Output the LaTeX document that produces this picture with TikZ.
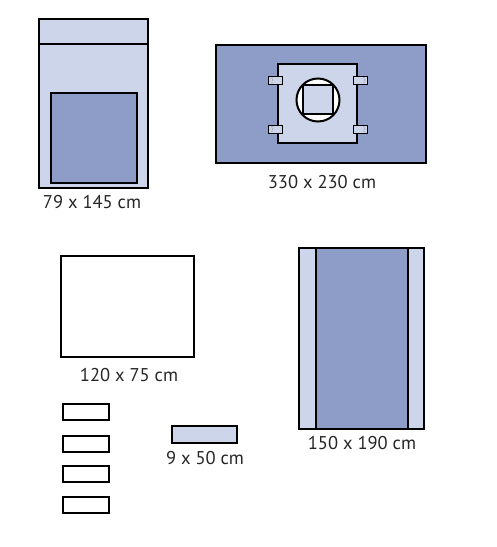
\documentclass[tikz,border=0pt]{standalone}
\usepackage{fontspec}
\setmainfont{PT Sans}
\definecolor{drapedark}{RGB}{141,157,200}
\definecolor{drapelight}{RGB}{205,213,235}
\definecolor{clipgray}{RGB}{150,150,150}
\tikzset{
  outerbox/.style={draw=black, line width=2.6pt},
  innerbox/.style={draw=black, line width=2pt},
  thinline/.style={draw=black, line width=1.2pt},
  clipbox/.style={draw=black, line width=1pt, fill=drapelight},
  dimlabel/.style={font=\fontsize{18.5}{20}\selectfont, text=black!85, inner sep=0pt},
}
\begin{document}
\begin{tikzpicture}[x=1pt,y=-1pt]
\useasboundingbox (0,0) rectangle (497,547);
\fill[white] (0,0) rectangle (497,547);
% top-left drape
\path[outerbox, fill=drapelight] (39,19) rectangle (148,188);
\draw[thinline] (39,44) -- (148,44);
\path[innerbox, fill=drapedark] (51,93) rectangle (137,183);
\node[dimlabel] (l1) at (92,202) {79 x 145 cm};
% top-right drape
\path[outerbox, fill=drapedark] (216,45) rectangle (426,163);
\path[innerbox, fill=drapelight] (278,64) rectangle (357,143);
\path[innerbox, fill=white] (318,100) circle (21.5);
\path[innerbox, fill=drapelight] (303,85) rectangle (333,114);
\foreach \cx/\cy in {268/76, 268/125, 353/76, 353/125}{
  \path[clipbox] (\cx,\cy) rectangle ++(14,8.5);
}
\foreach \cx/\cy in {272/80, 272/129, 364/80, 364/129}{
  \fill[clipgray] (\cx,\cy-2.2) circle (0.7) (\cx+0.6,\cy) circle (0.7) (\cx,\cy+2.2) circle (0.7);
}
\node[dimlabel] (l2) at (322,182) {330 x 230 cm};
% middle-left towel
\path[outerbox, fill=white] (61,256) rectangle (194,357);
\node[dimlabel] (l3) at (129,375) {120 x 75 cm};
% right drape
\path[outerbox, fill=drapelight] (299,248) rectangle (424,429);
\path[fill=drapedark] (316,248) rectangle (408,429);
\draw[thinline, line width=1.6pt] (316,248) -- (316,429) (408,248) -- (408,429);
\path[outerbox] (299,248) rectangle (424,429);
\node[dimlabel] (l4) at (362,443) {150 x 190 cm};
% small labels
\foreach \yy in {404,436,466,497}{
  \path[innerbox, fill=white] (63,\yy) rectangle (109,\yy+16);
}
% strip
\path[innerbox, fill=drapelight] (172,426) rectangle (237,443);
\node[dimlabel] (l5) at (205,458) {9 x 50 cm};
\end{tikzpicture}
\end{document}
